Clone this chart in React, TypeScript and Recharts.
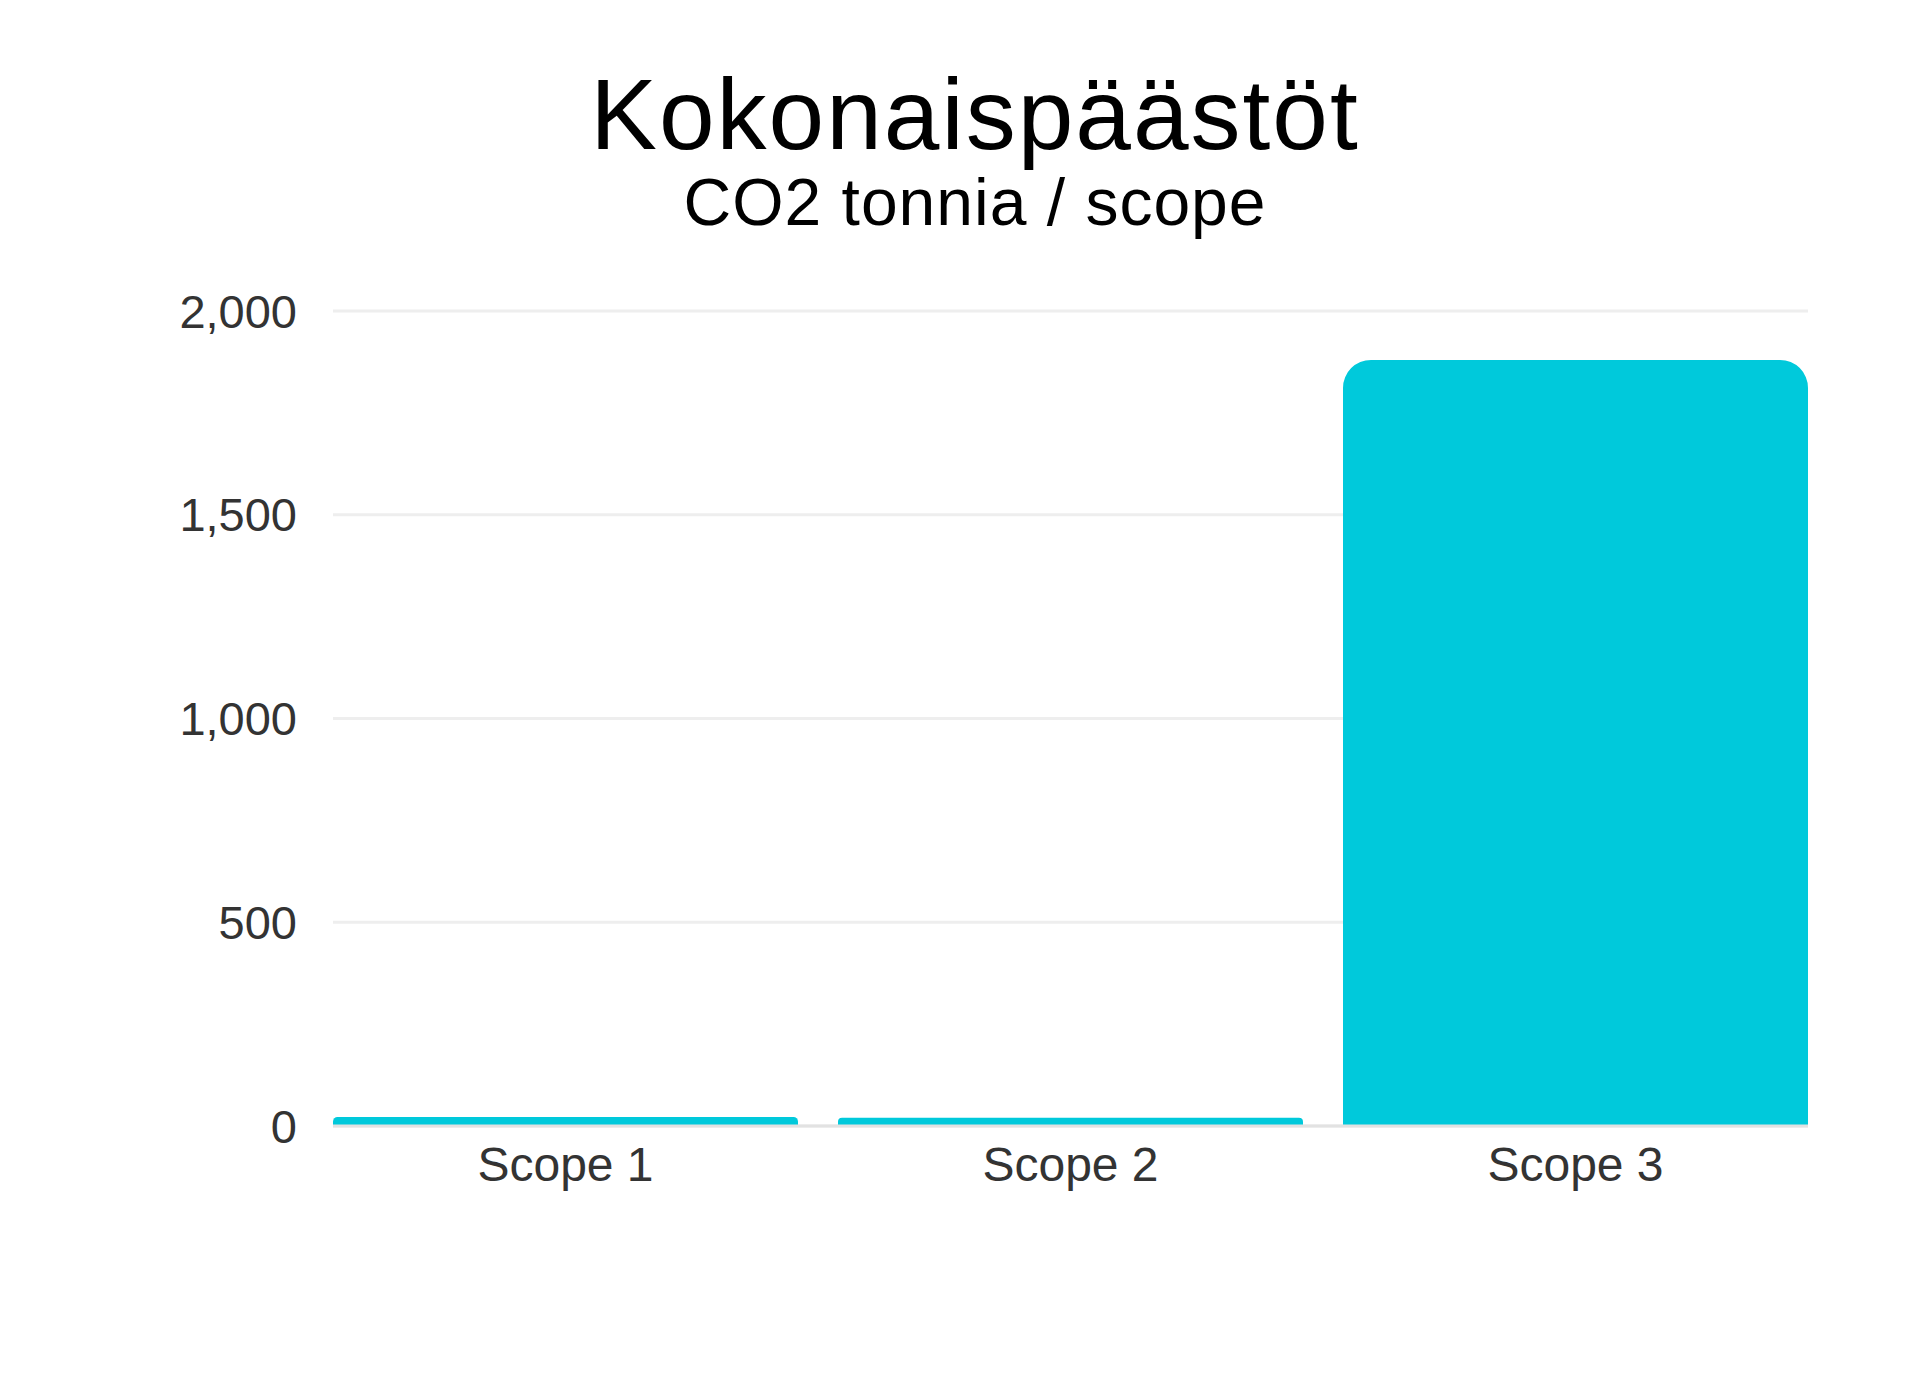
import React from "react";
import { BarChart, Bar, XAxis, YAxis, CartesianGrid } from "recharts";

const categories = ["Scope 1", "Scope 2", "Scope 3"];
const emissions = [22, 20, 1880];
const yTicks = [0, 500, 1000, 1500, 2000];
const title = "Kokonaispäästöt";
const subtitle = "CO2 tonnia / scope";

const data = categories.map((c, i) => ({ name: c, value: emissions[i] }));

const fmt = (v: number) => v.toLocaleString("en-US");

const font = "'Liberation Sans', Arial, Helvetica, sans-serif";

export default function App() {
  return (
    <div
      style={{
        position: "absolute",
        left: 0,
        top: 0,
        width: 1920,
        height: 1383,
        background: "#ffffff",
        fontFamily: font,
        overflow: "hidden",
      }}
    >
      <div
        style={{
          position: "absolute",
          left: 0,
          top: 64,
          width: 1950,
          textAlign: "center",
          fontSize: 100,
          lineHeight: "100px",
          letterSpacing: 2,
          color: "#000",
        }}
      >
        {title}
      </div>
      <div
        style={{
          position: "absolute",
          left: 0,
          top: 169,
          width: 1950,
          textAlign: "center",
          fontSize: 66,
          lineHeight: "66px",
          letterSpacing: 1,
          color: "#000",
        }}
      >
        {subtitle}
      </div>
      <div style={{ position: "absolute", left: 0, top: 0 }}>
        <BarChart
          width={1920}
          height={1383}
          data={data}
          margin={{ top: 311, right: 112, bottom: 197, left: 0 }}
          barCategoryGap={20}
        >
          <CartesianGrid vertical={false} stroke="#eeeeee" strokeWidth={3} />
          <XAxis
            dataKey="name"
            padding={{ left: -20, right: -20 }}
            height={60}
            tickLine={false}
            tickSize={0}
            tickMargin={21}
            axisLine={{ stroke: "#e2e2e2", strokeWidth: 3 }}
            tick={{ fontSize: 48, fill: "#333", fontFamily: font }}
          />
          <YAxis
            width={333}
            domain={[0, 2000]}
            ticks={yTicks}
            tickFormatter={fmt}
            axisLine={false}
            tickLine={false}
            tickSize={0}
            tickMargin={36}
            tick={{ fontSize: 47, fill: "#333", fontFamily: font }}
          />
          <Bar
            dataKey="value"
            fill="#00C9DB"
            radius={[28, 28, 0, 0]}
            isAnimationActive={false}
          />
        </BarChart>
      </div>
    </div>
  );
}
